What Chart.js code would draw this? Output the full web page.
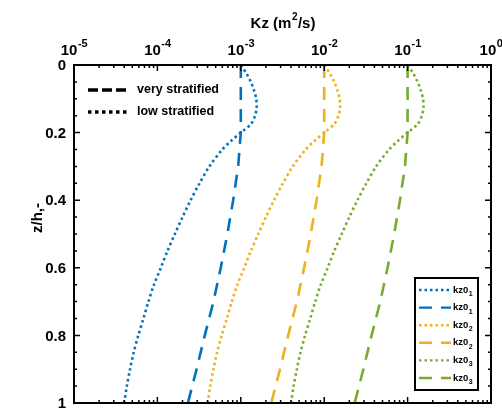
<!DOCTYPE html>
<html>
<head>
<meta charset="utf-8">
<script src="https://cdn.jsdelivr.net/npm/chart.js@4/dist/chart.umd.min.js"></script>
<style>
  html, body { margin: 0; padding: 0; background: #fff; }
</style>
</head>
<body>
<canvas id="kzChart" width="502" height="408"></canvas>
<script>
'use strict'

// depth grid for the low stratified (dotted) profiles
const zLow = [0, 0.025, 0.05, 0.075, 0.1, 0.125, 0.15, 0.175, 0.2, 0.225, 0.25, 0.3, 0.35, 0.4, 0.45,
              0.5, 0.55, 0.6, 0.65, 0.7, 0.75, 0.8, 0.85, 0.9, 0.95, 1.0];
const kz01Low = [1.0e-3, 1.17e-3, 1.32e-3, 1.44e-3, 1.53e-3, 1.55e-3, 1.48e-3, 1.32e-3, 1.0e-3, 7.6e-4, 6.0e-4,
                 4.2e-4, 3.2e-4, 2.5e-4, 2.0e-4, 1.62e-4, 1.32e-4, 1.1e-4, 9.1e-5, 7.8e-5, 6.8e-5, 5.9e-5,
                 5.2e-5, 4.7e-5, 4.3e-5, 4.0e-5];
const kz02Low = [1.0e-2, 1.17e-2, 1.32e-2, 1.44e-2, 1.53e-2, 1.55e-2, 1.48e-2, 1.32e-2, 1.0e-2, 7.6e-3, 6.0e-3,
                 4.2e-3, 3.2e-3, 2.5e-3, 2.0e-3, 1.62e-3, 1.32e-3, 1.1e-3, 9.1e-4, 7.8e-4, 6.8e-4, 5.9e-4,
                 5.2e-4, 4.7e-4, 4.3e-4, 4.0e-4];
const kz03Low = [1.0e-1, 1.17e-1, 1.32e-1, 1.44e-1, 1.53e-1, 1.55e-1, 1.48e-1, 1.32e-1, 1.0e-1, 7.6e-2, 6.0e-2,
                 4.2e-2, 3.2e-2, 2.5e-2, 2.0e-2, 1.62e-2, 1.32e-2, 1.1e-2, 9.1e-3, 7.8e-3, 6.8e-3, 5.9e-3,
                 5.2e-3, 4.7e-3, 4.3e-3, 4.0e-3];

// depth grid for the very stratified (dashed) profiles
const zVery = [0, 0.2, 0.3, 0.4, 0.5, 0.6, 0.7, 0.8, 0.9, 1.0];
const kz01Very = [1.0e-3, 1.0e-3, 9.3e-4, 8.1e-4, 6.9e-4, 5.75e-4, 4.7e-4, 3.7e-4, 2.95e-4, 2.32e-4];
const kz02Very = [1.0e-2, 1.0e-2, 9.3e-3, 8.1e-3, 6.9e-3, 5.75e-3, 4.7e-3, 3.7e-3, 2.95e-3, 2.32e-3];
const kz03Very = [1.0e-1, 1.0e-1, 9.3e-2, 8.1e-2, 6.9e-2, 5.75e-2, 4.7e-2, 3.7e-2, 2.95e-2, 2.32e-2];

const xPowers = [-5, -4, -3, -2, -1, 0];
const yTicks = [0, 0.2, 0.4, 0.6, 0.8, 1];
const yTickLabels = ['0', '0.2', '0.4', '0.6', '0.8', '1'];
const seriesLabels = ['kz0', 'kz0', 'kz0', 'kz0', 'kz0', 'kz0'];
const seriesSubs = ['1', '1', '2', '2', '3', '3'];

const BLUE = '#0072BD';
const YELLOW = '#EDB120';
const GREEN = '#77AC30';
const DOTTED = [2.5, 3];
const DASHED = [13, 9];
const FONT = '"Liberation Sans", Arial, sans-serif';

function pts(xs, zs){
  return xs.map(function(v, i){ return {x: v, y: zs[i]}; });
}

function lowSet(values, color){
  return { data: pts(values, zLow), borderColor: color, borderDash: DOTTED, borderWidth: 2.6,
           tension: 0.3, pointRadius: 0, showLine: true, fill: false };
}
function verySet(values, color){
  return { data: pts(values, zVery), borderColor: color, borderDash: DASHED, borderWidth: 2.6,
           tension: 0, pointRadius: 0, showLine: true, fill: false };
}

// box, inward ticks, labels and the two legends
const decorPlugin = {
  id: 'decor',
  afterDraw: function(chart){
    const ctx = chart.ctx;
    const a = chart.chartArea;
    const xs = chart.scales.x;
    const ys = chart.scales.y;
    ctx.save();

    // ticks
    ctx.strokeStyle = '#000';
    ctx.lineWidth = 1.5;
    ctx.setLineDash([]);
    ctx.beginPath();
    for (let p = -5; p <= 0; p++) {
      for (let m = 1; m <= 9; m++) {
        if (p === 0 && m > 1) break;
        const px = xs.getPixelForValue(m * Math.pow(10, p));
        const len = m === 1 ? 6 : 3;
        ctx.moveTo(px, a.top); ctx.lineTo(px, a.top + len);
        ctx.moveTo(px, a.bottom); ctx.lineTo(px, a.bottom - len);
      }
    }
    for (let k = 0; k <= 20; k++) {
      const py = ys.getPixelForValue(k * 0.05);
      const len = k % 4 === 0 ? 6 : 3;
      ctx.moveTo(a.left, py); ctx.lineTo(a.left + len, py);
      ctx.moveTo(a.right, py); ctx.lineTo(a.right - len, py);
    }
    ctx.stroke();

    // box
    ctx.lineWidth = 2;
    ctx.strokeRect(a.left, a.top, a.right - a.left, a.bottom - a.top);

    // x tick labels 10^p
    ctx.fillStyle = '#000';
    ctx.textBaseline = 'alphabetic';
    ctx.textAlign = 'left';
    xPowers.forEach(function(p){
      const px = xs.getPixelForValue(Math.pow(10, p));
      ctx.font = 'bold 15px ' + FONT;
      const wb = ctx.measureText('10').width;
      ctx.font = 'bold 11px ' + FONT;
      const exp = p === 0 ? '0' : '-' + Math.abs(p);
      const we = ctx.measureText(exp).width;
      const x0 = px - (wb + we) / 2;
      ctx.font = 'bold 15px ' + FONT;
      ctx.fillText('10', x0, 55);
      ctx.font = 'bold 11px ' + FONT;
      ctx.fillText(exp, x0 + wb + 0.5, 47);
    });

    // y tick labels
    ctx.font = 'bold 15px ' + FONT;
    ctx.textAlign = 'right';
    ctx.textBaseline = 'middle';
    yTicks.forEach(function(v, i){
      ctx.fillText(yTickLabels[i], a.left - 8, ys.getPixelForValue(v) + 1);
    });

    // x title Kz (m^2/s)
    ctx.textAlign = 'left';
    ctx.textBaseline = 'alphabetic';
    ctx.font = 'bold 15px ' + FONT;
    const t1 = 'Kz (m', t3 = '/s)';
    const w1 = ctx.measureText(t1).width, w3 = ctx.measureText(t3).width;
    ctx.font = 'bold 10px ' + FONT;
    const w2 = ctx.measureText('2').width;
    let tx = (a.left + a.right) / 2 - (w1 + w2 + w3) / 2;
    ctx.font = 'bold 15px ' + FONT;
    ctx.fillText(t1, tx, 28);
    ctx.font = 'bold 10px ' + FONT;
    ctx.fillText('2', tx + w1 + 0.5, 20);
    ctx.font = 'bold 15px ' + FONT;
    ctx.fillText(t3, tx + w1 + w2 + 1, 28);

    // y title
    ctx.save();
    ctx.translate(38, 218);
    ctx.rotate(-Math.PI / 2);
    ctx.textAlign = 'center';
    ctx.textBaseline = 'middle';
    ctx.font = 'bold 15px ' + FONT;
    ctx.fillText('z/h,-', 0, 0);
    ctx.restore();

    // line-style legend (top left)
    ctx.strokeStyle = '#000';
    ctx.lineWidth = 3.5;
    ctx.setLineDash([10, 4]);
    ctx.beginPath(); ctx.moveTo(88, 90); ctx.lineTo(129, 90); ctx.stroke();
    ctx.setLineDash([3.5, 3.5]);
    ctx.beginPath(); ctx.moveTo(88, 112); ctx.lineTo(129, 112); ctx.stroke();
    ctx.setLineDash([]);
    ctx.font = 'bold 12.5px ' + FONT;
    ctx.textBaseline = 'middle';
    ctx.textAlign = 'left';
    ctx.fillText('very stratified', 137, 90);
    ctx.fillText('low stratified', 137, 112);

    // series legend (bottom right)
    const bx = 415, by = 278, bw = 63, bh = 112;
    ctx.fillStyle = '#fff';
    ctx.fillRect(bx, by, bw, bh);
    ctx.lineWidth = 2;
    ctx.strokeStyle = '#000';
    ctx.strokeRect(bx, by, bw, bh);
    chart.data.datasets.forEach(function(ds, i){
      const ry = by + 12 + i * 17.6;
      ctx.strokeStyle = ds.borderColor;
      ctx.lineWidth = 2.4;
      ctx.setLineDash(ds.borderDash);
      ctx.beginPath(); ctx.moveTo(419, ry); ctx.lineTo(451, ry); ctx.stroke();
      ctx.setLineDash([]);
      ctx.fillStyle = '#000';
      ctx.font = 'bold 9.5px ' + FONT;
      ctx.textBaseline = 'middle';
      ctx.fillText(seriesLabels[i], 453, ry);
      const wl = ctx.measureText(seriesLabels[i]).width;
      ctx.font = 'bold 7px ' + FONT;
      ctx.fillText(seriesSubs[i], 453 + wl + 0.5, ry + 4);
    });

    ctx.restore();
  }
};

const ctx = document.getElementById('kzChart').getContext('2d');
const kzChart = new Chart(ctx, {
  type: 'scatter',
  data: {
    datasets: [
      lowSet(kz01Low, BLUE),
      verySet(kz01Very, BLUE),
      lowSet(kz02Low, YELLOW),
      verySet(kz02Very, YELLOW),
      lowSet(kz03Low, GREEN),
      verySet(kz03Very, GREEN)
    ]
  },
  options: {
    responsive: false,
    animation: false,
    layout: { padding: { top: 0, right: 11, bottom: 5, left: 0 } },
    plugins: { legend: { display: false }, tooltip: { enabled: false } },
    scales: {
      x: {
        type: 'logarithmic',
        position: 'top',
        min: 1e-5,
        max: 1,
        grid: { display: false, drawTicks: false },
        border: { display: false },
        ticks: { display: false },
        afterFit: function(s){ s.height = 65; }
      },
      y: {
        type: 'linear',
        reverse: true,
        min: 0,
        max: 1,
        grid: { display: false, drawTicks: false },
        border: { display: false },
        ticks: { display: false },
        afterFit: function(s){ s.width = 74; }
      }
    }
  },
  plugins: [decorPlugin]
});
</script>
</body>
</html>
